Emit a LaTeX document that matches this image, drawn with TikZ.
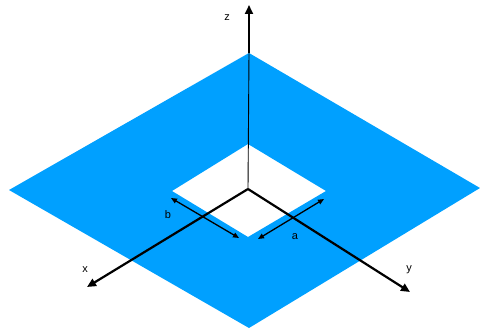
\documentclass[tikz,border=0pt]{standalone}
\usepackage{fontspec}
\setmainfont{Liberation Sans}
\usetikzlibrary{arrows.meta}
\definecolor{plate}{HTML}{00A0FF}
\begin{document}
\begin{tikzpicture}[x=1pt,y=-1pt,
  axis/.style={line width=2.2pt,-{Triangle[length=9pt,width=8pt]}},
  dim/.style={line width=1.3pt,{Triangle[length=6pt,width=5pt]}-{Triangle[length=6pt,width=5pt]}},
  lbl/.style={font=\fontsize{11}{13}\selectfont,inner sep=0pt}]
\useasboundingbox (0,0) rectangle (480,329);
\coordinate (L) at (9,190);
\coordinate (T) at (249,53);
\coordinate (R) at (480,188);
\coordinate (B) at (249,328);
\coordinate (hL) at (172,191);
\coordinate (hT) at (248,144);
\coordinate (hR) at (326,191);
\coordinate (hB) at (248,237);
\coordinate (O) at (248,189);
\fill[plate,even odd rule] (L) -- (T) -- (R) -- (B) -- cycle (hL) -- (hT) -- (hR) -- (hB) -- cycle;
\draw[line width=0.9pt] (O) -- (T);
\coordinate (zt) at (249,5);
\coordinate (xt) at (87,287);
\coordinate (yt) at (410,292);
\draw[axis] (T) -- (zt);
\draw[axis] (O) -- (xt);
\draw[axis] (O) -- (yt);
\coordinate (b1) at (171,198);
\coordinate (b2) at (239,238);
\coordinate (a1) at (258,239);
\coordinate (a2) at (324,199);
\draw[dim] (b1) -- (b2);
\draw[dim] (a1) -- (a2);
\node[lbl] (zl) at (227,18) {z};
\node[lbl] (xl) at (85,270) {x};
\node[lbl] (yl) at (409,270) {y};
\node[lbl] (bl) at (168,215) {b};
\node[lbl] (al) at (295,237) {a};
\end{tikzpicture}
\end{document}
